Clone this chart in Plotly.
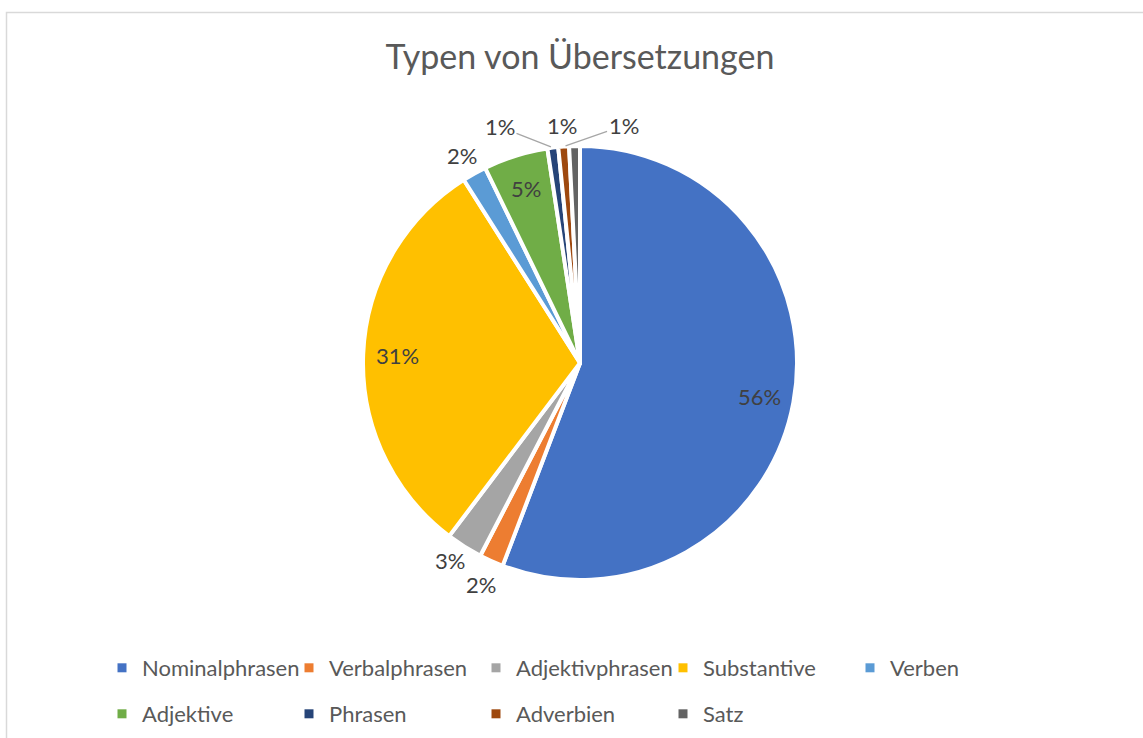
import math
import plotly.graph_objects as go

title = "Typen von Übersetzungen"
categories = ["Nominalphrasen", "Verbalphrasen", "Adjektivphrasen", "Substantive",
              "Verben", "Adjektive", "Phrasen", "Adverbien", "Satz"]
values = [558, 18, 27, 307, 18, 48, 8, 8, 8]
colors = ["#4472C4", "#ED7D31", "#A5A5A5", "#FFC000", "#5B9BD5",
          "#70AD47", "#264478", "#9E480E", "#636363"]
label_inside = [True, False, False, True, False, True, False, False, False]

FONT = "Lato"
TXT = "#404040"
W, H = 1143, 738

# pie domain (paper fractions)
dom_x = [(580 - 217) / W, (580 + 217) / W]
dom_y = [1 - 580 / H, 1 - 146 / H]

fig = go.Figure()
fig.add_trace(go.Pie(
    labels=categories, values=values, sort=False, direction="clockwise", rotation=0,
    marker=dict(colors=colors, line=dict(color="white", width=4)),
    textinfo="none",
    domain=dict(x=dom_x, y=dom_y),
    showlegend=False, hoverinfo="label+percent",
))

# ---- data labels derived from the slice angles (Excel-like placement) ----
cx_px = (dom_x[0] + dom_x[1]) / 2 * W
cy_px = (1 - (dom_y[0] + dom_y[1]) / 2) * H
r_px = min((dom_x[1] - dom_x[0]) * W, (dom_y[1] - dom_y[0]) * H) / 2
total = sum(values)
HALF_W, HALF_H, GAP = 16, 11, 10
labels = []
cum = 0.0
for v, inside in zip(values, label_inside):
    mid = (cum + v / 2) / total * 2 * math.pi  # clockwise from 12 o'clock
    cum += v
    ux, uy = math.sin(mid), -math.cos(mid)
    if inside:
        nx, ny = cx_px + 0.84 * r_px * ux, cy_px + 0.84 * r_px * uy
    else:
        nx = cx_px + (r_px + GAP) * ux + HALF_W * ux
        ny = cy_px + (r_px + GAP) * uy + HALF_H * uy
    labels.append(dict(text=f"{round(100 * v / total)}%", inside=inside,
                       ux=ux, uy=uy, nx=nx, ny=ny, x=nx, y=ny))

# resolve overlaps between outside labels by pushing pairs apart along one axis
outs = [l for l in labels if not l["inside"]]
SEP_X, SEP_Y = 62, 24
for _ in range(100):
    changed = False
    for i in range(len(outs)):
        for j in range(i + 1, len(outs)):
            a, b = outs[i], outs[j]
            dx, dy = b["x"] - a["x"], b["y"] - a["y"]
            if abs(dx) < SEP_X - 0.5 and abs(dy) < SEP_Y - 0.5:
                fx = SEP_X / max(abs(dx), 1e-6)
                fy = SEP_Y / max(abs(dy), 1e-6)
                if fx <= fy:
                    mx = (a["x"] + b["x"]) / 2
                    s = 1 if dx >= 0 else -1
                    a["x"], b["x"] = mx - s * SEP_X / 2, mx + s * SEP_X / 2
                else:
                    my = (a["y"] + b["y"]) / 2
                    s = 1 if dy >= 0 else -1
                    a["y"], b["y"] = my - s * SEP_Y / 2, my + s * SEP_Y / 2
                changed = True
    if not changed:
        break

annotations = []
for l in labels:
    moved = math.hypot(l["x"] - l["nx"], l["y"] - l["ny"]) > 15
    font = dict(family=FONT, size=22, color=TXT)
    if moved:
        ex, ey = cx_px + r_px * l["ux"], cy_px + r_px * l["uy"]
        annotations.append(dict(
            x=ex / W, y=1 - ey / H, xref="paper", yref="paper",
            ax=l["x"] - ex, ay=l["y"] - ey, axref="pixel", ayref="pixel",
            text=l["text"], showarrow=True, arrowhead=0, arrowwidth=1.3,
            arrowcolor="#A6A6A6", standoff=2, font=font))
    else:
        annotations.append(dict(
            x=l["x"] / W, y=1 - l["y"] / H, xref="paper", yref="paper",
            text=l["text"], showarrow=False, xanchor="center", yanchor="middle",
            font=font))

# legend proxies split over two rows
for i, (name, col) in enumerate(zip(categories, colors)):
    fig.add_trace(go.Scatter(
        x=[None], y=[None], mode="markers", name=name,
        marker=dict(symbol="square", size=9, color=col),
        legend="legend" if i < 5 else "legend2",
    ))

legend_common = dict(orientation="h", xanchor="left", yanchor="middle",
                     entrywidth=142, entrywidthmode="pixels",
                     font=dict(family=FONT, size=22, color="#595959"),
                     bgcolor="rgba(0,0,0,0)", itemclick=False)

fig.update_layout(
    width=W, height=H,
    margin=dict(l=0, r=0, t=0, b=0),
    paper_bgcolor="white", plot_bgcolor="white",
    title=dict(text=title, x=580 / W, xanchor="center", y=1 - 57 / H, yanchor="middle",
               font=dict(family=FONT, size=34, color="#595959")),
    xaxis=dict(visible=False), yaxis=dict(visible=False),
    legend=dict(x=102 / W, y=1 - 668 / H, **legend_common),
    legend2=dict(x=102 / W, y=1 - 714 / H, **legend_common),
    annotations=annotations,
    shapes=[dict(type="rect", xref="paper", yref="paper",
                 x0=6.5 / W, x1=1.01, y0=-0.01, y1=1 - 12.5 / H,
                 line=dict(color="#D9D9D9", width=1.5), fillcolor="rgba(0,0,0,0)")],
)

fig.write_html("out.html")
